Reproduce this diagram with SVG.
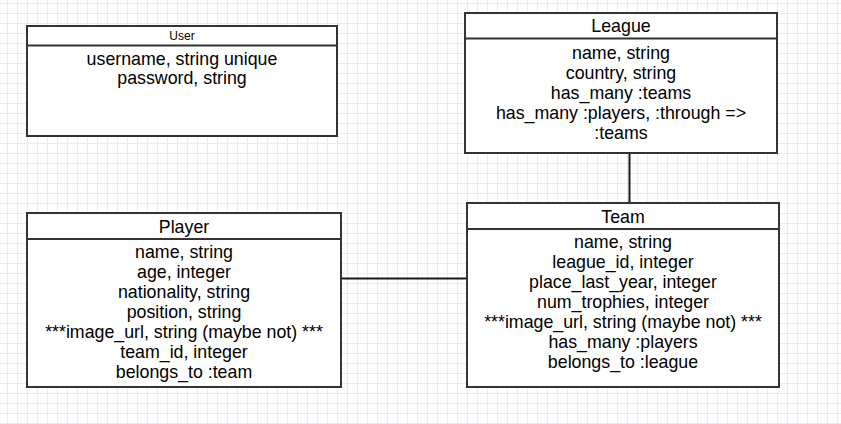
<svg xmlns="http://www.w3.org/2000/svg" width="841" height="424" viewBox="0 0 841 424">
<defs>
<pattern id="grid" patternUnits="userSpaceOnUse" x="7" y="3" width="10" height="10">
<path d="M0 0.5H10M0.5 0V10" fill="none" stroke="#ebe8f8" stroke-width="1"/>
</pattern>
<style>
.box{fill:#ffffff;stroke:#333333;stroke-width:2}
.sep{stroke:#333333;stroke-width:2}
.conn{stroke:#1a1a1a;stroke-width:2;fill:none}
text{font-family:"Liberation Sans",Arial,Helvetica,sans-serif;fill:#000000;text-anchor:middle}
.h{font-size:17.8px}
.a{font-size:17.8px}
.hs{font-size:12px}
</style>
</defs>
<rect x="0" y="0" width="841" height="424" fill="#ffffff"/>
<rect x="0" y="0" width="841" height="424" fill="url(#grid)"/>
<g id="connectors">
<line class="conn" x1="629.5" y1="153" x2="629.5" y2="203"/>
<line class="conn" x1="341" y1="278.5" x2="467" y2="278.5"/>
</g>
<g id="user">
<rect class="box" x="27" y="26" width="310" height="110"/>
<line class="sep" x1="27" y1="45.5" x2="337" y2="45.5"/>
<text class="hs" x="182" y="40">User</text>
<text class="a" x="182" y="65">username, string unique</text>
<text class="a" x="182" y="84">password, string</text>
</g>
<g id="league">
<rect class="box" x="465" y="13" width="312" height="140"/>
<line class="sep" x1="465" y1="38.5" x2="777" y2="38.5"/>
<text class="h" x="621" y="32">League</text>
<text class="a" x="621" y="58.5">name, string</text>
<text class="a" x="621" y="78.5">country, string</text>
<text class="a" x="621" y="98.5">has_many :teams</text>
<text class="a" x="621" y="118.5">has_many :players, :through =&gt;</text>
<text class="a" x="621" y="138.5">:teams</text>
</g>
<g id="player">
<rect class="box" x="27" y="213" width="314" height="174"/>
<line class="sep" x1="27" y1="239" x2="341" y2="239"/>
<text class="h" x="184" y="232.5">Player</text>
<text class="a" x="184" y="257.5">name, string</text>
<text class="a" x="184" y="277.5">age, integer</text>
<text class="a" x="184" y="297.5">nationality, string</text>
<text class="a" x="184" y="317.5">position, string</text>
<text class="a" x="184" y="337.5">***image_url, string (maybe not) ***</text>
<text class="a" x="184" y="357.5">team_id, integer</text>
<text class="a" x="184" y="377.5">belongs_to :team</text>
</g>
<g id="team">
<rect class="box" x="467" y="203" width="312" height="184"/>
<line class="sep" x1="467" y1="229" x2="779" y2="229"/>
<text class="h" x="623" y="222.5">Team</text>
<text class="a" x="623" y="247.5">name, string</text>
<text class="a" x="623" y="267.5">league_id, integer</text>
<text class="a" x="623" y="287.5">place_last_year, integer</text>
<text class="a" x="623" y="307.5">num_trophies, integer</text>
<text class="a" x="623" y="327.5">***image_url, string (maybe not) ***</text>
<text class="a" x="623" y="347.5">has_many :players</text>
<text class="a" x="623" y="367.5">belongs_to :league</text>
</g>
</svg>
